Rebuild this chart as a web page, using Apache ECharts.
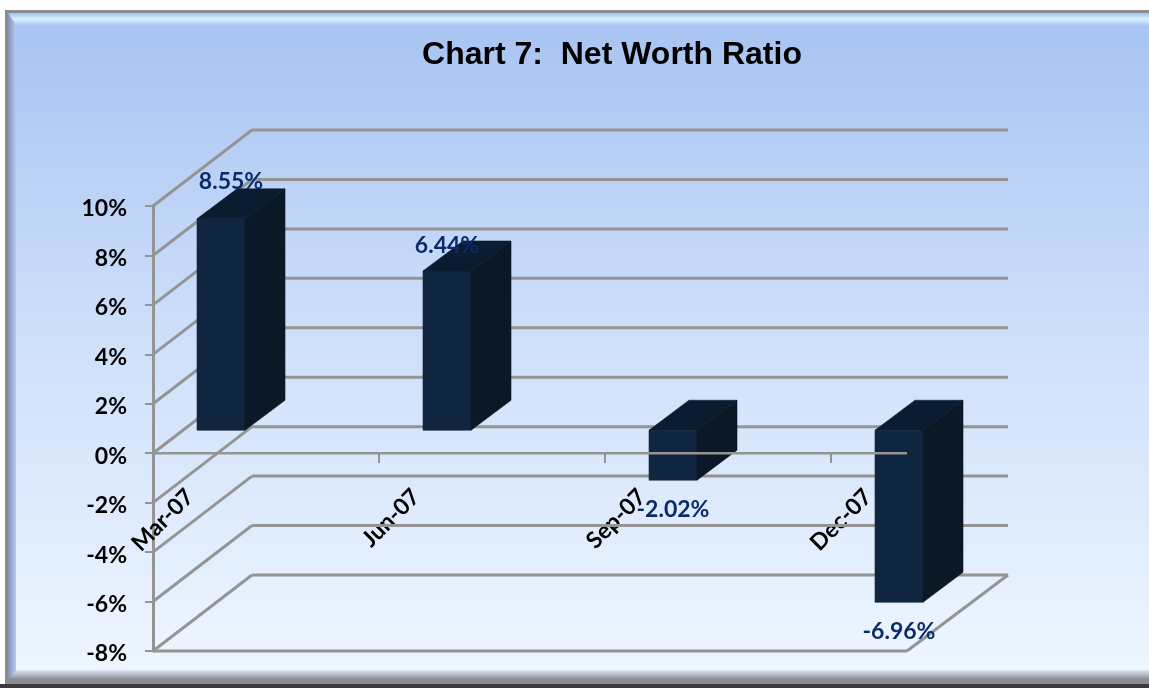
<!DOCTYPE html>
<html>
<head>
<meta charset="utf-8">
<style>html,body{margin:0;padding:0;background:#fff}#c{width:1149px;height:688px}</style>
<script src="https://cdn.jsdelivr.net/npm/echarts@6/dist/echarts.min.js"></script>
</head>
<body>
<div id="c"></div>
<script>
const categories = ['Mar-07', 'Jun-07', 'Sep-07', 'Dec-07'];
const netWorthRatio = [8.55, 6.44, -2.02, -6.96];
const valueLabels = ['8.55%', '6.44%', '-2.02%', '-6.96%'];
const yTicks = [-8, -6, -4, -2, 0, 2, 4, 6, 8, 10];

const W = 1149, H = 688;
const GRID = '#949494';
const chart = echarts.init(document.getElementById('c'), null, {renderer: 'canvas', width: W, height: H});

// Pseudo-3D depth of the chart floor and of each bar, in pixels.
const wallDx = 99, wallDy = -76;
const barDx = 40, barDy = -30;
const barShiftX = 44, barW = 48, barShiftY = -23;
const backRight = 1008, frontRight = 907;

function seg(x1, y1, x2, y2, w) {
  return {type: 'line', shape: {x1, y1, x2, y2}, style: {stroke: GRID, lineWidth: w || 3}};
}
function poly(points, fill) {
  return {type: 'polygon', shape: {points}, style: {fill, stroke: fill, lineWidth: 0.6}};
}

const option = {
  animation: false,
  backgroundColor: '#fff',
  graphic: [
    {type: 'rect', z: -10, silent: true, shape: {x: 5, y: 10, width: 1144, height: 678},
      style: {fill: '#8c8c8c'}},
    {type: 'polygon', z: -9, silent: true, shape: {points: [[8,13],[1149,13],[1149,26],[16,26]]},
      style: {fill: new echarts.graphic.LinearGradient(0,0,0,1,[{offset:0,color:'#9fc0ee'},{offset:.45,color:'#d6f2ff'},{offset:1,color:'#a9c5f3'}])}},
    {type: 'polygon', z: -9, silent: true, shape: {points: [[8,13],[16,26],[16,670],[8,680]]},
      style: {fill: new echarts.graphic.LinearGradient(0,0,1,0,[{offset:0,color:'#7f93b4'},{offset:1,color:'#b6cdf2'}])}},
    {type: 'polygon', z: -9, silent: true, shape: {points: [[8,680],[16,670],[1149,670],[1149,680]]},
      style: {fill: new echarts.graphic.LinearGradient(0,0,0,1,[{offset:0,color:'#dfe7f3'},{offset:1,color:'#7f8794'}])}},
    {type: 'rect', z: -9, silent: true, shape: {x: 0, y: 684, width: 1149, height: 4}, style: {fill: '#3a3a3c'}},
    {type: 'rect', z: -8, silent: true, shape: {x: 16, y: 26, width: 1133, height: 644},
      style: {fill: new echarts.graphic.LinearGradient(0,0,0,1,[
        {offset:0,color:'#a9c4f2'},{offset:.5,color:'#cfe0fa'},{offset:1,color:'#eef6ff'}])}}
  ],
  title: {
    text: 'Chart 7:  Net Worth Ratio',
    left: 607, top: 34, textAlign: 'center',
    textStyle: {fontFamily: '"Liberation Sans", Arial, sans-serif', fontWeight: 'bold', fontSize: 32, color: '#000'}
  },
  grid: [
    {left: 153, top: 206, width: 678, height: 445, containLabel: false},
    {left: 190, top: 206, width: 678, height: 445, containLabel: false},
    {left: 153, top: 209, width: 678, height: 445, containLabel: false}
  ],
  xAxis: [
    {type: 'category', gridIndex: 0, data: categories, boundaryGap: false,
      position: 'bottom', offset: -198,
      axisLine: {show: false},
      axisTick: {show: true, alignWithLabel: true, length: 10, inside: false,
        lineStyle: {color: GRID, width: 2}},
      axisLabel: {show: false}},
    {type: 'category', gridIndex: 1, data: categories, boundaryGap: false,
      position: 'bottom', offset: -158,
      axisLine: {show: false}, axisTick: {show: false},
      axisLabel: {show: true, rotate: 45, margin: 0, interval: 0, hideOverlap: false,
        showMinLabel: true, showMaxLabel: true,
        fontFamily: 'Lato, "Open Sans", sans-serif', fontWeight: 'bold', fontSize: 23, color: '#000'}},
    {type: 'category', gridIndex: 2, data: categories, show: false}
  ],
  yAxis: [
    {type: 'value', gridIndex: 0, min: -8, max: 10, interval: 2,
      axisLine: {show: true, onZero: false, lineStyle: {color: GRID, width: 3}},
      axisTick: {show: true, length: 8, lineStyle: {color: GRID, width: 2}},
      splitLine: {show: false},
      axisLabel: {show: false}},
    {type: 'value', gridIndex: 1, min: -8, max: 10, interval: 2, show: false},
    {type: 'value', gridIndex: 2, min: -8, max: 10, interval: 2,
      axisLine: {show: false, onZero: false}, axisTick: {show: false}, splitLine: {show: false},
      axisLabel: {formatter: '{value}%', margin: 26,
        fontFamily: 'Lato, "Open Sans", sans-serif', fontWeight: 'bold', fontSize: 23, color: '#000'}}
  ],
  series: [
    {
      name: 'Walls', type: 'custom', xAxisIndex: 0, yAxisIndex: 0, z: 1, silent: true,
      data: yTicks.map(v => [0, v]),
      renderItem(params, api) {
        const p = api.coord([0, api.value(1)]);
        const bx = p[0] + wallDx, by = p[1] + wallDy;
        return {type: 'group', children: [seg(p[0], p[1], bx, by), seg(bx, by, backRight, by)]};
      }
    },
    {
      name: 'Floor front', type: 'custom', xAxisIndex: 0, yAxisIndex: 0, z: 1, silent: true,
      data: [[0, -8]],
      renderItem(params, api) {
        const p = api.coord([0, api.value(1)]);
        return {type: 'group', children: [
          seg(p[0], p[1], frontRight, p[1]),
          seg(frontRight, p[1], frontRight + wallDx + 2, p[1] + wallDy)
        ]};
      }
    },
    {
      name: 'Net Worth Ratio', type: 'custom', xAxisIndex: 0, yAxisIndex: 0, z: 3, silent: true,
      data: netWorthRatio.map((v, i) => [i, v]),
      renderItem(params, api) {
        const i = api.value(0), v = api.value(1);
        const base = api.coord([i, 0]), tip = api.coord([i, v]);
        const xL = base[0] + barShiftX, xR = xL + barW;
        const y0 = Math.min(base[1], tip[1]) + barShiftY;
        const y1 = Math.max(base[1], tip[1]) + barShiftY;
        return {type: 'group', children: [
          poly([[xL, y0], [xR, y0], [xR, y1], [xL, y1]], '#10253f'),
          poly([[xL, y0], [xL + barDx, y0 + barDy], [xR + barDx, y0 + barDy], [xR, y0]], '#0a1c30'),
          poly([[xR, y0], [xR + barDx, y0 + barDy], [xR + barDx, y1 + barDy], [xR, y1]], '#0b1825')
        ]};
      }
    },
    {
      name: 'Zero line', type: 'custom', xAxisIndex: 0, yAxisIndex: 0, z: 4, silent: true,
      data: [[0, 0]],
      renderItem(params, api) {
        const p = api.coord([0, 0]);
        return seg(p[0], p[1], frontRight, p[1], 2.4);
      }
    },
    {
      name: 'Value labels', type: 'custom', xAxisIndex: 0, yAxisIndex: 0, z: 5, silent: true,
      data: netWorthRatio.map((v, i) => [i, v, valueLabels[i]]),
      renderItem(params, api) {
        const i = api.value(0), v = api.value(1);
        const tip = api.coord([i, v]);
        const dx = i === 0 ? 78 : 68;
        const dy = v < 0 ? 6 : (i === 0 ? -60 : -48);
        return {type: 'text', style: {
          x: tip[0] + dx, y: tip[1] + dy, text: valueLabels[i], align: 'center', verticalAlign: 'middle',
          fontFamily: 'Lato, "Open Sans", sans-serif', fontWeight: 'bold', fontSize: 23, fill: '#0a2a6b'
        }};
      }
    }
  ]
};
chart.setOption(option);
</script>
</body>
</html>
